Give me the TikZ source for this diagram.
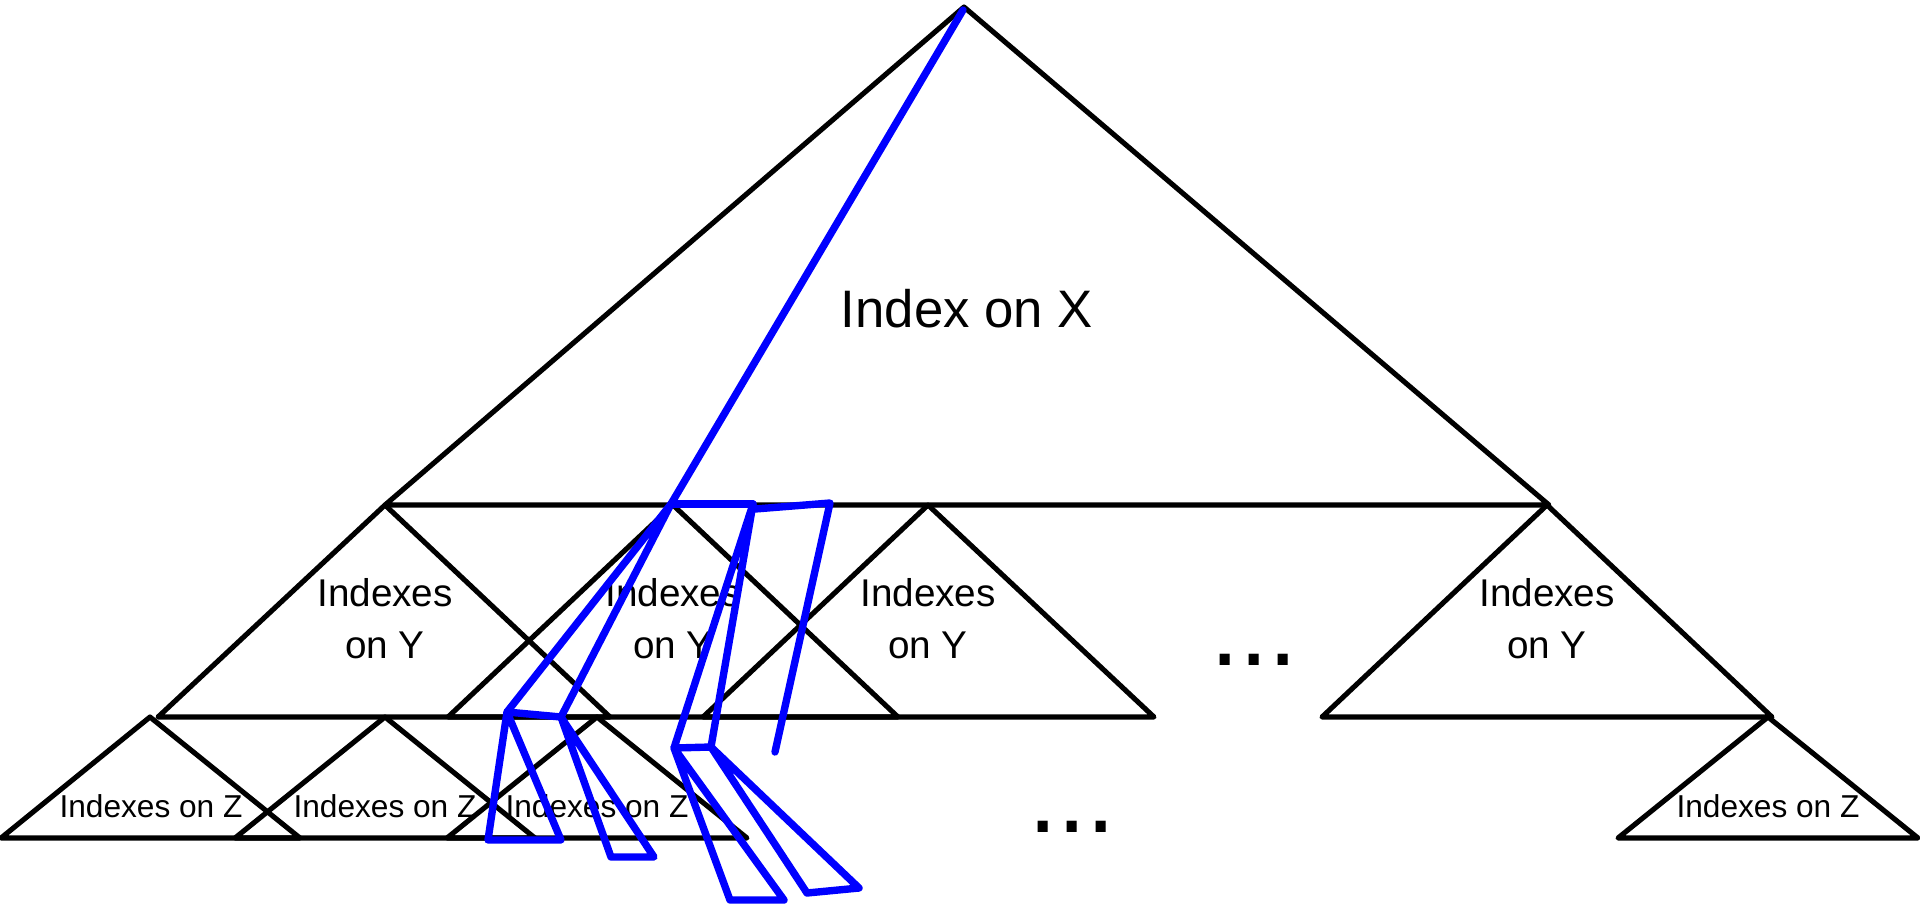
\documentclass[tikz,border=0pt]{standalone}
\usepackage{fontspec}
\setmainfont{Liberation Sans}
\tikzset{
  tri/.style={draw=black,line width=1.45pt},
  lookup/.style={draw=blue,line width=2.1pt},
}
\begin{document}
\begin{tikzpicture}[x=0.01cm,y=-0.01cm,line join=round,line cap=round]
\useasboundingbox (0,0) rectangle (1920,905);

% Top-level index on X.
\draw[tri] (964,7) -- (1549,505) -- (385,505) -- cycle;
\node[font=\fontsize{15}{18}\selectfont,anchor=base] (idxX) at (967,327) {Index on X};

% Second level: indexes on Y.
\draw[tri] (385,505) -- (610,717) -- (158,717) -- cycle;
\draw[tri] (673,505) -- (898,717) -- (448,717) -- cycle;
\draw[tri] (928,505) -- (1154,717) -- (703,717) -- cycle;
\draw[tri] (1547,505) -- (1772,717) -- (1322,717) -- cycle;
\node[font=\fontsize{11}{14.8}\selectfont,align=center,inner sep=0] (idxY1) at (385,619) {Indexes\\on Y};
\node[font=\fontsize{11}{14.8}\selectfont,align=center,inner sep=0] (idxY2) at (673,619) {Indexes\\on Y};
\node[font=\fontsize{11}{14.8}\selectfont,align=center,inner sep=0] (idxY3) at (928,619) {Indexes\\on Y};
\node[font=\fontsize{11}{14.8}\selectfont,align=center,inner sep=0] (idxY4) at (1547,619) {Indexes\\on Y};
\node[font=\fontsize{30}{36}\selectfont,anchor=base] (dotsY) at (1254,665) {...};

% Third level: indexes on Z.
\draw[tri] (150,717) -- (300,838) -- (1,838) -- cycle;
\draw[tri] (385,717) -- (535,838) -- (235,838) -- cycle;
\draw[tri] (597,717) -- (747,838) -- (447,838) -- cycle;
\draw[tri] (1768,717) -- (1918,838) -- (1618,838) -- cycle;
\node[font=\fontsize{9}{11}\selectfont,anchor=base] (idxZ1) at (151,817) {Indexes on Z};
\node[font=\fontsize{9}{11}\selectfont,anchor=base] (idxZ2) at (385,817) {Indexes on Z};
\node[font=\fontsize{9}{11}\selectfont,anchor=base] (idxZ3) at (597,817) {Indexes on Z};
\node[font=\fontsize{9}{11}\selectfont,anchor=base] (idxZ4) at (1768,817) {Indexes on Z};
\node[font=\fontsize{30}{36}\selectfont,anchor=base] (dotsZ) at (1072,832) {...};

% Lookup path through the levels.
\draw[lookup] (963,10) -- (671,504);
\draw[lookup] (671,504) -- (507,712) -- (561,717) -- cycle;
\draw[lookup] (507,712) -- (488,840) -- (561,840) -- cycle;
\draw[lookup] (561,717) -- (611,857) -- (654,857) -- cycle;
\draw[lookup] (671,504) -- (753,504);
\draw[lookup] (753,504) -- (674,748) -- (711,747) -- cycle;
\draw[lookup] (755,509) -- (830,503) -- (775,752);
\draw[lookup] (674,748) -- (730,900) -- (784,900) -- cycle;
\draw[lookup] (711,747) -- (807,893) -- (859,888) -- cycle;
\end{tikzpicture}
\end{document}
